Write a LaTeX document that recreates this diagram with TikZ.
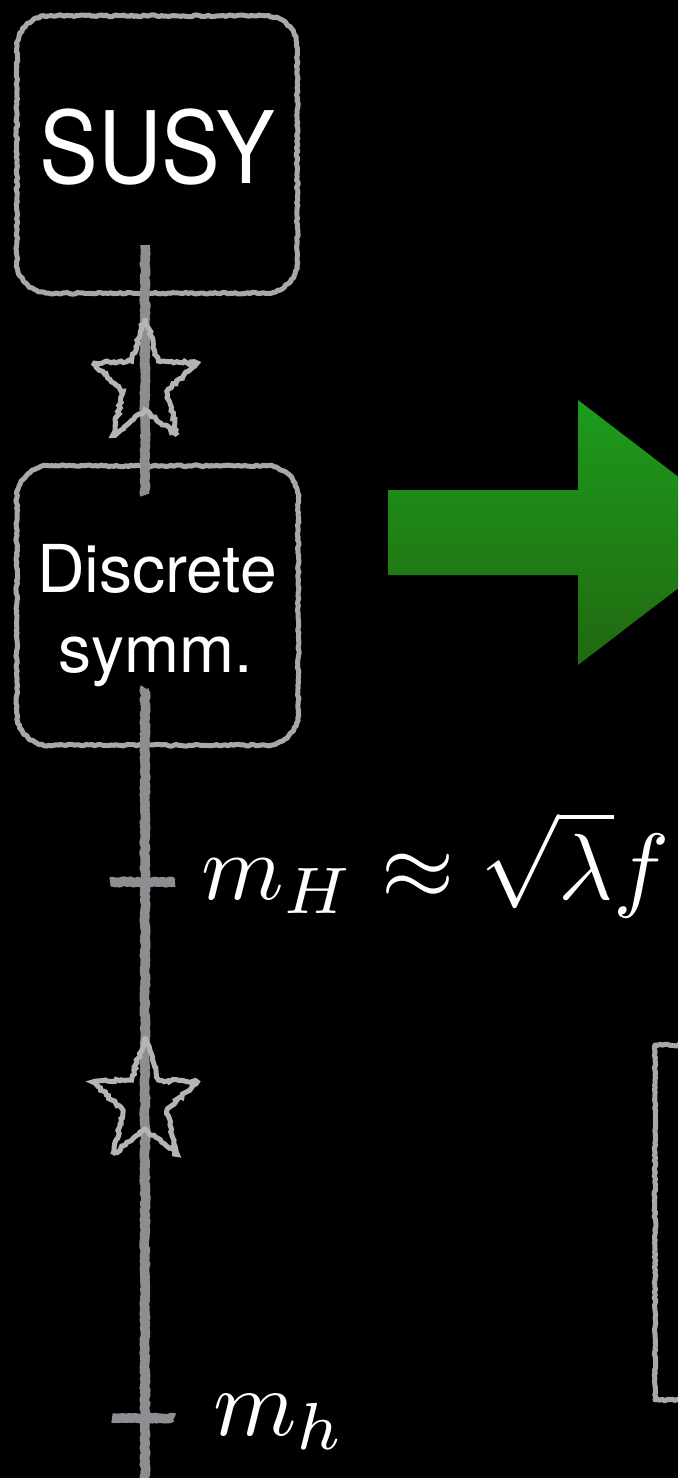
\documentclass[tikz,border=0pt]{standalone}
\usepackage{fontspec}
\usepackage{graphicx}
\setsansfont{TeX Gyre Heros}
\usetikzlibrary{shapes.geometric,decorations.pathmorphing}
\definecolor{boxgray}{HTML}{A8A8A8}
\definecolor{axisgray}{HTML}{8C8E92}
\definecolor{stargray}{HTML}{B4B4B4}
\definecolor{arrowtop}{RGB}{28,156,28}
\definecolor{arrowbot}{RGB}{34,104,16}
\tikzset{
  chalkborder/.style={draw=boxgray, line width=5pt, line join=round,
    decorate, decoration={random steps, segment length=2.5pt, amplitude=0.9pt}},
  chalkaxis/.style={draw=axisgray, line width=9.5pt, line join=round,
    decorate, decoration={random steps, segment length=2pt, amplitude=0.9pt}},
  boxnode/.style={inner sep=0pt, draw=none},
  starnode/.style={star, star points=5, star point ratio=2.4, minimum size=110pt,
    inner sep=0pt, draw=stargray, line width=5pt, line join=miter, miter limit=3,
    transform shape,
    decorate, decoration={random steps, segment length=3pt, amplitude=1.5pt}},
  sanslabel/.style={text=white, inner sep=0pt, anchor=base, font=\sffamily},
  mathlabel/.style={text=white, inner sep=0pt, anchor=base west},
  bigarrow/.style={top color=arrowtop, bottom color=arrowbot, draw=none}
}
\newcommand\mychalkbox[1]{%
  \draw[chalkborder] ([xshift=32pt]#1.north west) -- ([xshift=-32pt]#1.north east)
    arc[start angle=90, end angle=0, radius=32pt]
    -- ([yshift=32pt]#1.south east)
    arc[start angle=0, end angle=-90, radius=32pt]
    -- ([xshift=32pt]#1.south west)
    arc[start angle=270, end angle=180, radius=32pt]
    -- ([yshift=-32pt]#1.north west)
    arc[start angle=180, end angle=90, radius=32pt] -- cycle;}
\pgfmathsetseed{7}
\begin{document}
\begin{tikzpicture}[x=1pt, y=1pt]
\useasboundingbox (0,0) rectangle (678,-1478);
\fill[black] (0,0) rectangle (678,-1478);
\clip (0,0) rectangle (678,-1478);

% green arrow
\path[bigarrow] (388,-490) -- (578,-490) -- (578,-400) -- (751,-532.5)
  -- (578,-665) -- (578,-575) -- (388,-575) -- cycle;

% boxes
\node[boxnode, minimum width=280pt, minimum height=277pt] (susy) at (157,-154.5) {};
\node[boxnode, minimum width=281pt, minimum height=279pt] (disc) at (157.5,-605.5) {};
\mychalkbox{susy}
\mychalkbox{disc}

% right box (partially visible)
\coordinate (r1) at (700,-1045);
\coordinate (r2) at (655,-1045);
\coordinate (r3) at (655,-1400);
\coordinate (r4) at (700,-1400);
\draw[chalkborder] (r1) -- (r2) -- (r3) -- (r4);

% axis
\coordinate (a1) at (145,-245);
\coordinate (a2) at (145,-495);
\coordinate (b1) at (145,-688);
\coordinate (b2) at (145,-1490);
\draw[chalkaxis] (a1) -- (a2);
\draw[chalkaxis] (b1) -- (b2);

% ticks
\coordinate (t1l) at (110,-882);
\coordinate (t1r) at (175,-882);
\coordinate (t2l) at (112,-1418);
\coordinate (t2r) at (174,-1418);
\draw[chalkaxis] (t1l) -- (t1r);
\draw[chalkaxis] (t2l) -- (t2r);

% stars
\begin{scope}[shift={(145,-383)}, yscale=1.18]
  \node[starnode] (star1) at (0,0) {};
\end{scope}
\begin{scope}[shift={(145,-1102)}, yscale=1.18]
  \node[starnode] (star2) at (0,0) {};
\end{scope}

% texts
\node[sanslabel] (susytext) at (157,-183)
  {\fontsize{100}{110}\selectfont\scalebox{0.88}[1]{SUSY}};
\node[sanslabel] (disctext) at (157,-592)
  {\fontsize{66}{70}\selectfont Discrete};
\node[sanslabel] (symmtext) at (156,-672)
  {\fontsize{66}{70}\selectfont symm.};
\node[mathlabel] (mH) at (201,-899)
  {\scalebox{9.4}{$m_H \approx \sqrt{\lambda} f$}};
\node[mathlabel] (mh) at (213,-1435)
  {\scalebox{9.5}{$m_h$}};
\end{tikzpicture}
\end{document}
